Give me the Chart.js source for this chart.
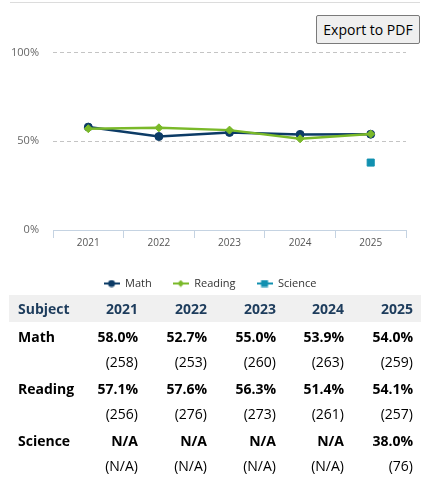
<!DOCTYPE html>
<html>
<head>
<meta charset="utf-8">
<script src="https://cdn.jsdelivr.net/npm/chart.js@4/dist/chart.umd.min.js"></script>
<style>
  body { margin: 0; background: #fff; font-family: "Open Sans", sans-serif; }
  #rule { position: absolute; left: 10px; top: 2px; width: 410px; height: 1px; background: #dcdcdc; }
  #export {
    position: absolute; left: 316px; top: 15px; width: 104px; height: 29px;
    font: 14px "Open Sans", sans-serif; color: #000;
    background: #efefef; border: 1px solid #7a7a7a; border-radius: 2px; padding: 0;
  }
  #chartBox { position: absolute; left: 0; top: 32px; width: 420px; height: 267px; }
  #scores {
    position: absolute; left: 9px; top: 295px; width: 412px;
    border-collapse: collapse; table-layout: fixed; font-size: 14px; color: #000;
  }
  #scores th { background: #f0f0f0; color: #1d3c5c; font-weight: bold; height: 27px; padding: 0 8px 0 0; text-align: right; }
  #scores th:first-child, #scores td:first-child { text-align: left; padding-left: 9px; }
  #scores td { padding: 0 8px 0 0; text-align: right; }
  #scores tr.pct td { font-weight: bold; padding-top: 2px; line-height: 26px; }
  #scores tr.cnt td { line-height: 22px; padding-bottom: 1px; padding-top: 1px; }
</style>
</head>
<body>
<div id="rule"></div>
<button id="export">Export to PDF</button>
<div id="chartBox"><canvas id="chart"></canvas></div>
<table id="scores">
  <colgroup>
    <col style="width:68px"><col style="width:69px"><col style="width:69px">
    <col style="width:69px"><col style="width:68px"><col style="width:69px">
  </colgroup>
  <thead><tr id="headRow"><th>Subject</th></tr></thead>
  <tbody id="body"></tbody>
</table>
<script>
// data
const years = ["2021", "2022", "2023", "2024", "2025"];
const subjects = ["Math", "Reading", "Science"];
const mathPct = [58.0, 52.7, 55.0, 53.9, 54.0];
const mathCount = [258, 253, 260, 263, 259];
const readingPct = [57.1, 57.6, 56.3, 51.4, 54.1];
const readingCount = [256, 276, 273, 261, 257];
const sciencePct = [null, null, null, null, 38.0];
const scienceCount = [null, null, null, null, 76];
const yTicks = [0, 50, 100];

const colors = ["#0c3b66", "#7ab929", "#1190b0"];
const styles = ["circle", "rectRot", "rect"];

// legend icons: short line with the marker in the middle
function legendIcon(color, style) {
    let c = document.createElement("canvas");
    c.width = 16;
    c.height = 8;
    let ctx = c.getContext("2d");
    ctx.strokeStyle = color;
    ctx.fillStyle = color;
    ctx.lineWidth = 2;
    ctx.beginPath();
    ctx.moveTo(0, 4);
    ctx.lineTo(16, 4);
    ctx.stroke();
    ctx.beginPath();
    if (style === "circle") {
        ctx.arc(8, 4, 3.5, 0, Math.PI * 2);
    } else if (style === "rectRot") {
        ctx.moveTo(8, 0.5); ctx.lineTo(11.5, 4); ctx.lineTo(8, 7.5); ctx.lineTo(4.5, 4);
        ctx.closePath();
    } else {
        ctx.rect(4.5, 0.5, 7, 7);
    }
    ctx.fill();
    return c;
}
const icons = colors.map((c, i) => legendIcon(c, styles[i]));

// table
let head = document.getElementById("headRow");
years.forEach((y) => {
    let th = document.createElement("th");
    th.textContent = y;
    head.appendChild(th);
});
const pcts = [mathPct, readingPct, sciencePct];
const counts = [mathCount, readingCount, scienceCount];
let body = document.getElementById("body");
subjects.forEach((s, i) => {
    let r1 = document.createElement("tr");
    r1.className = "pct";
    let r2 = document.createElement("tr");
    r2.className = "cnt";
    let name = document.createElement("td");
    name.textContent = s;
    r1.appendChild(name);
    r2.appendChild(document.createElement("td"));
    years.forEach((y, j) => {
        let a = document.createElement("td");
        a.textContent = pcts[i][j] === null ? "N/A" : pcts[i][j].toFixed(1) + "%";
        r1.appendChild(a);
        let b = document.createElement("td");
        b.textContent = "(" + (counts[i][j] === null ? "N/A" : counts[i][j]) + ")";
        r2.appendChild(b);
    });
    body.appendChild(r1);
    body.appendChild(r2);
});

// chart
Chart.defaults.font.family = "'Open Sans', sans-serif";
const series = [mathPct, readingPct, sciencePct];
new Chart(document.getElementById("chart"), {
    type: "line",
    data: {
        labels: years,
        datasets: subjects.map((s, i) => ({
            label: s,
            data: series[i],
            borderColor: colors[i],
            backgroundColor: colors[i],
            pointBackgroundColor: colors[i],
            pointBorderColor: colors[i],
            pointStyle: styles[i],
            pointRadius: i === 2 ? 5 : 4,
            pointBorderWidth: 1,
            borderWidth: 2.5,
            showLine: i !== 2,
            tension: 0,
            order: 2 - i
        }))
    },
    options: {
        responsive: true,
        maintainAspectRatio: false,
        animation: false,
        layout: { padding: { top: 4, right: 0, left: 0, bottom: 0 } },
        plugins: {
            tooltip: { enabled: false },
            legend: {
                position: "bottom",
                labels: {
                    usePointStyle: true,
                    pointStyleWidth: 16,
                    padding: 21,
                    color: "#333",
                    font: { size: 11 },
                    sort: (a, b) => a.datasetIndex - b.datasetIndex,
                    generateLabels: (chart) => {
                        let items = Chart.defaults.plugins.legend.labels.generateLabels(chart);
                        items.forEach((it) => { it.pointStyle = icons[it.datasetIndex]; });
                        return items;
                    }
                }
            }
        },
        scales: {
            x: {
                offset: true,
                afterFit: (scale) => { scale.height = 27; },
                grid: { offset: true, drawOnChartArea: false, drawTicks: true, tickLength: 8, color: "#c5d3e2" },
                border: { color: "#c5d3e2", width: 1 },
                ticks: { color: "#555", font: { size: 10 }, padding: -1 }
            },
            y: {
                min: 0,
                max: 100,
                afterFit: (scale) => { scale.width = 53; },
                afterBuildTicks: (scale) => { scale.ticks = yTicks.map((v) => ({ value: v })); },
                grid: {
                    drawTicks: false,
                    color: (ctx) => ctx.tick && ctx.tick.value === 0 ? "rgba(0,0,0,0)" : "#c4c4c4"
                },
                border: { display: false, dash: [4, 3] },
                ticks: { color: "#666", font: { size: 11 }, padding: 14, callback: (v) => v + "%" }
            },
            // empty right gutter so the legend centres on the whole width
            gutter: {
                type: "linear",
                position: "right",
                afterFit: (scale) => { scale.width = 14; },
                grid: { display: false },
                border: { display: false },
                ticks: { display: false }
            }
        }
    }
});
</script>
</body>
</html>
